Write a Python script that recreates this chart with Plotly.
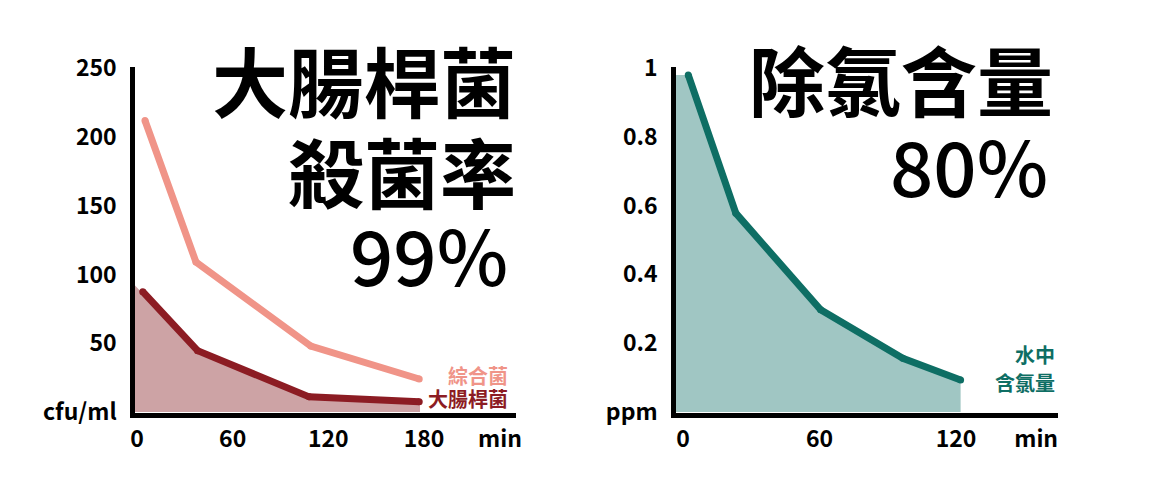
import plotly.graph_objects as go

# ---------------- data ----------------
# Left panel: bacteria count (cfu/ml) vs time (min)
mixed_x = [5, 37, 109, 177]
mixed_y = [212, 109, 48, 24]
ecoli_x = [3.6, 38, 108, 177]
ecoli_y = [87.5, 44.6, 11, 7.5]
ecoli_fill_x = [-1.25, 37, 108, 177.5]
ecoli_fill_y = [92, 46, 12, 8.5]
left_yticks = [0, 50, 100, 150, 200, 250]
left_yticktext = ["cfu/ml", "50", "100", "150", "200", "250"]
left_xticks = [0, 60, 120, 180, 227.7]
left_xticktext = ["0", "60", "120", "180", "min"]

# Right panel: chlorine content (ppm) vs time (min)
chlorine_x = [2.3, 23.2, 60.5, 96.6, 122]
chlorine_y = [0.98, 0.578, 0.297, 0.156, 0.093]
chlorine_fill_x = [-3.08, 2.3, 23.2, 60.5, 96.6, 122]
chlorine_fill_y = [0.98, 0.98, 0.578, 0.297, 0.156, 0.093]
right_yticks = [0, 0.2, 0.4, 0.6, 0.8, 1.0]
right_yticktext = ["ppm", "0.2", "0.4", "0.6", "0.8", "1"]
right_xticks = [0, 60, 120, 155.2]
right_xticktext = ["0", "60", "120", "min"]

# ---------------- styles ----------------
FONT = "Noto Sans CJK TC"
FONT_MED = "Noto Sans CJK TC Medium, Noto Sans CJK TC"
PINK = "#F09488"
DARKRED = "#8C1C23"
RED_FILL = "#CDA3A5"
TEAL = "#0E6E64"
TEAL_FILL = "#A0C6C3"
W, H = 1155, 499
OFF = 8  # page body margin


def px_x(p):
    return (p - OFF) / W


def px_y(p):
    return (H - (p - OFF)) / H


fig = go.Figure()

# left fill + lines
fig.add_trace(go.Scatter(x=ecoli_fill_x, y=ecoli_fill_y, mode="lines", fill="tozeroy",
                         fillcolor=RED_FILL, line=dict(width=0), xaxis="x", yaxis="y",
                         showlegend=False, hoverinfo="skip"))
fig.add_trace(go.Scatter(x=mixed_x, y=mixed_y, mode="lines+markers", name="綜合菌",
                         line=dict(color=PINK, width=7), marker=dict(color=PINK, size=7),
                         xaxis="x", yaxis="y", showlegend=False))
fig.add_trace(go.Scatter(x=ecoli_x, y=ecoli_y, mode="lines+markers", name="大腸桿菌",
                         line=dict(color=DARKRED, width=7), marker=dict(color=DARKRED, size=7),
                         xaxis="x", yaxis="y", showlegend=False))

# right fill + line
fig.add_trace(go.Scatter(x=chlorine_fill_x, y=chlorine_fill_y, mode="lines", fill="tozeroy",
                         fillcolor=TEAL_FILL, line=dict(width=0), xaxis="x2", yaxis="y2",
                         showlegend=False, hoverinfo="skip"))
fig.add_trace(go.Scatter(x=chlorine_x, y=chlorine_y, mode="lines+markers", name="水中含氯量",
                         line=dict(color=TEAL, width=7), marker=dict(color=TEAL, size=7),
                         xaxis="x2", yaxis="y2", showlegend=False))

tickfont = dict(family=FONT, size=23, color="black", weight="bold")
axis_common = dict(showgrid=False, zeroline=False, showline=True, linecolor="black",
                   linewidth=4.5, ticks="", tickfont=tickfont, fixedrange=True,
                   automargin=False)

ydom = [px_y(413), px_y(67)]

fig.update_layout(
    width=W, height=H, autosize=False,
    margin=dict(l=0, r=0, t=0, b=0, pad=0),
    paper_bgcolor="white", plot_bgcolor="white",
    xaxis=dict(domain=[px_x(135), px_x(516)], range=[-1.25, 237.7], anchor="y",
               tickvals=left_xticks, ticktext=left_xticktext, ticklabelstandoff=2,
               **axis_common),
    yaxis=dict(domain=ydom, range=[-0.73, 250.9], anchor="x",
               tickvals=left_yticks, ticktext=left_yticktext, ticklabelstandoff=9,
               **axis_common),
    xaxis2=dict(domain=[px_x(676), px_x(1058)], range=[-3.08, 164.8], anchor="y2",
                tickvals=right_xticks, ticktext=right_xticktext, ticklabelstandoff=2,
                **axis_common),
    yaxis2=dict(domain=ydom, range=[-0.003, 1.003], anchor="x2",
                tickvals=right_yticks, ticktext=right_yticktext, ticklabelstandoff=9,
                **axis_common),
)

annotations = [
    # big titles
    dict(text="大腸桿菌", x=px_x(518), y=px_y(79), size=76, weight="bold", color="black", fam=FONT),
    dict(text="殺菌率", x=px_x(518), y=px_y(170), size=76, weight="bold", color="black", fam=FONT),
    dict(text="99%", x=px_x(510), y=px_y(253), size=76, weight=500, color="black", fam=FONT_MED),
    dict(text="除氯含量", x=px_x(1055), y=px_y(78), size=76, weight="bold", color="black", fam=FONT),
    dict(text="80%", x=px_x(1050), y=px_y(164), size=76, weight=500, color="black", fam=FONT_MED),
    # series labels
    dict(text="綜合菌", x=px_x(510), y=px_y(375), size=20, weight="bold", color=PINK, fam=FONT),
    dict(text="大腸桿菌", x=px_x(510), y=px_y(398), size=20, weight="bold", color=DARKRED, fam=FONT),
    dict(text="水中", x=px_x(1057), y=px_y(355), size=20, weight="bold", color=TEAL, fam=FONT),
    dict(text="含氯量", x=px_x(1057), y=px_y(382), size=20, weight="bold", color=TEAL, fam=FONT),
]
for a in annotations:
    fig.add_annotation(text=a["text"], x=a["x"], y=a["y"], xref="paper", yref="paper",
                       xanchor="right", yanchor="middle", showarrow=False,
                       font=dict(family=a["fam"], size=a["size"], color=a["color"], weight=a["weight"]))

fig.write_html("out.html", config={"displayModeBar": False})
